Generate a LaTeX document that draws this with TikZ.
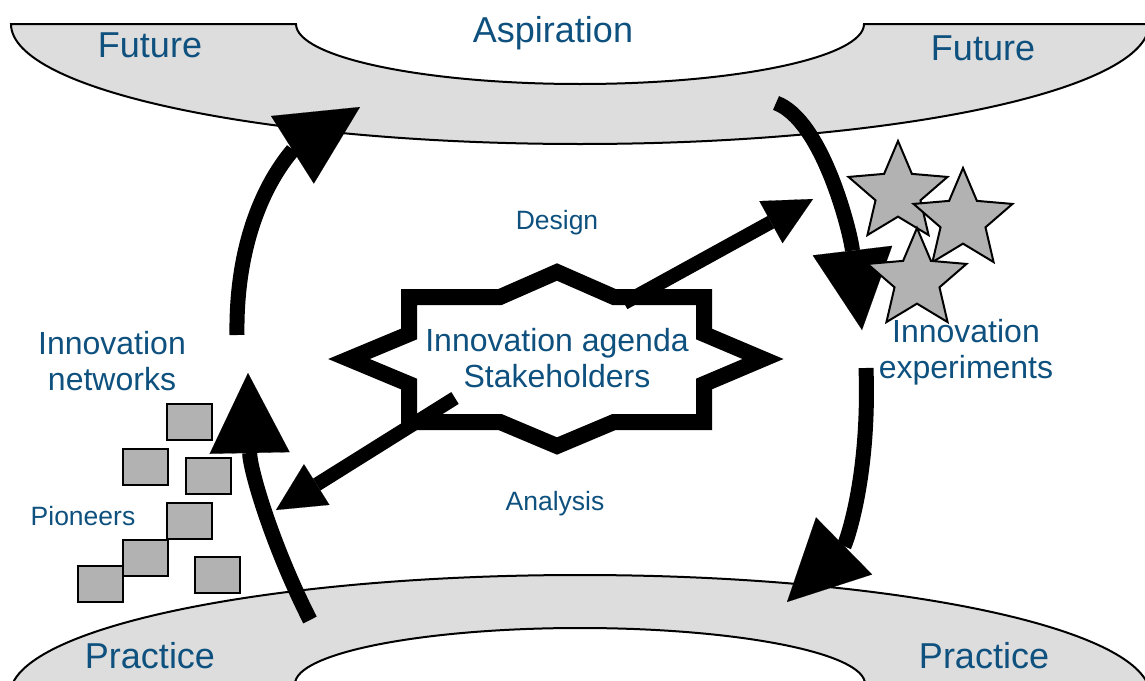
\documentclass[tikz,border=0pt]{standalone}
\usepackage{fontspec}
\setmainfont{Liberation Sans}
\usetikzlibrary{arrows.meta,shapes.geometric}
\definecolor{inkblue}{RGB}{14,80,126}
\definecolor{bandgray}{RGB}{221,221,221}
\definecolor{blockgray}{RGB}{178,178,178}
\tikzset{
  label36/.style={text=inkblue, font=\fontsize{36}{40}\selectfont, anchor=base, inner sep=0pt},
  label32/.style={text=inkblue, font=\fontsize{32}{36}\selectfont, align=center, inner sep=0pt},
  label25/.style={text=inkblue, font=\fontsize{26.5}{30}\selectfont, anchor=base, inner sep=0pt},
  bigflow/.style={line width=15pt, -{Triangle[length=80pt,width=80pt,line width=0.1pt]}},
  smallflow/.style={line width=14pt, -{Triangle[length=48pt,width=48pt,line width=0.1pt]}},
  pioneer/.style={draw=black, line width=2.5pt, fill=blockgray},
  result/.style={star, star points=5, star point ratio=2.2, minimum size=104pt, inner sep=0pt, draw=black, line width=2pt, fill=blockgray},
}
\def\pioneerbox(#1,#2){\draw[pioneer] (#1,#2) rectangle ++(45,36);}

\begin{document}
\begin{tikzpicture}[x=1pt, y=-1pt]
		%%%%% START %%%%%
		\useasboundingbox (0,0) rectangle (1145,680);
		\clip (0,0) rectangle (1145,680);
		
		% future and practice bands
		\draw[fill=bandgray, line width=2pt] (11,24) -- (296,24) arc[start angle=180, end angle=0, x radius=284, y radius=60] -- (1149,24) arc[start angle=0, end angle=180, x radius=569, y radius=120] -- cycle;
		\draw[fill=bandgray, line width=2pt] (10,695) arc[start angle=180, end angle=360, x radius=570, y radius=120] -- (1150,720) -- (865,720) -- (865,684) arc[start angle=0, end angle=-180, x radius=285, y radius=56] -- (295,720) -- (10,720) -- cycle;
		
		% agenda outline
		\draw[line width=16pt, line join=miter, fill=white] (349,359) -- (409,334) -- (409,297) -- (500,297) -- (557,272) -- (614,297) -- (704,297) -- (704,334) -- (763,359) -- (704,384) -- (704,422) -- (614,422) -- (557,446) -- (500,422) -- (409,422) -- (409,384) -- cycle;
		
		\node[label36] (aspiration) at (553,42) {Aspiration};
		\node[label36] (futureL) at (150,57) {Future};
		\node[label36] (futureR) at (983,60) {Future};
		\node[label36] (practiceL) at (150,668) {Practice};
		\node[label36] (practiceR) at (984,668) {Practice};
		\node[label32] (agenda) at (557,358) {Innovation agenda\\Stakeholders};
		\node[label32] (networks) at (112,361) {Innovation\\networks};
		\node[label32] (experiments) at (966,352) {Innovation\\experiments};
		\node[label25] (design) at (557,229) {Design};
		\node[label25] (analysis) at (555,510) {Analysis};
		\node[label25] (pioneers) at (83,525) {Pioneers};
		
		% cycle arrows
		\coordinate (netTop) at (237,335);
		\coordinate (futIn) at (360,107);
		\coordinate (pracOut) at (310,620);
		\coordinate (netIn) at (248,373);
		\coordinate (futOut) at (776,103);
		\coordinate (expIn) at (862,330);
		\coordinate (expOut) at (866,368);
		\coordinate (pracIn) at (787,602);
		\draw[bigflow] (netTop) .. controls (235,200) and (300,145) .. (futIn);
		\draw[bigflow] (pracOut) .. controls (272,545) and (250,470) .. (netIn);
		\draw[bigflow] (futOut) .. controls (822,120) and (850,230) .. (expIn);
		\draw[bigflow] (expOut) .. controls (870,480) and (845,545) .. (pracIn);
		
		% design and analysis
		\coordinate (designOut) at (624,303);
		\coordinate (designIn) at (813,199);
		\coordinate (analysisOut) at (455,398);
		\coordinate (analysisIn) at (276,510);
		\draw[smallflow] (designOut) -- (designIn);
		\draw[smallflow] (analysisOut) -- (analysisIn);
		
		% experiments
		\node[result] (star1) at (898,193) {};
		\node[result] (star2) at (963,220) {};
		\node[result] (star3) at (917,280) {};
		
		% pioneers
		\pioneerbox(167,404)
		\pioneerbox(123,449)
		\pioneerbox(186,458)
		\pioneerbox(167,503)
		\pioneerbox(123,540)
		\pioneerbox(78,566)
		\pioneerbox(195,557)
		
		%%%%% END %%%%%
	\end{tikzpicture}
\end{document}
